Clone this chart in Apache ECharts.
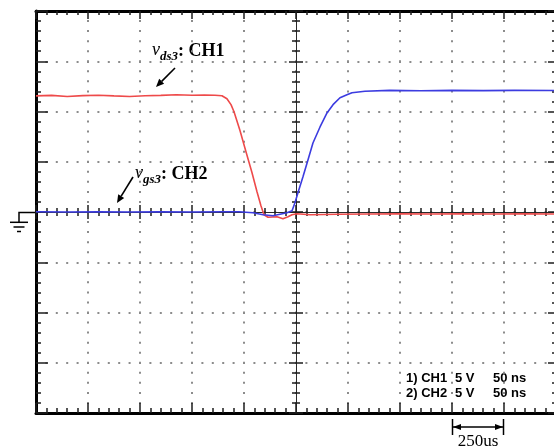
<!DOCTYPE html>
<html><head><meta charset="utf-8">
<script src="https://cdn.jsdelivr.net/npm/echarts@6/dist/echarts.min.js"></script>
<style>html,body{margin:0;padding:0;background:#fff}#c{width:554px;height:447px}</style>
</head><body><div id="c"></div>
<script>
// Time in ns relative to screen centre (50 ns/div), voltage in V (5 V/div)
const ch1Time = [-250,-235,-220,-205,-190,-175,-160,-145,-130,-115,-100,-88,-78,-71.2,-66.4,-62.5,-59.6,-53.8,-48.1,-42.3,-37.5,-33.7,-30.8,-26.9,-18.3,-12.5,-7.7,-3.8,0.9,13.5,40,70,100,130,160,190,220,250];
const ch1Volt = [11.55,11.6,11.5,11.58,11.62,11.55,11.5,11.56,11.6,11.66,11.62,11.64,11.62,11.57,11.27,10.68,9.98,8.09,6.0,3.91,2.02,0.63,-0.27,-0.52,-0.47,-0.67,-0.47,-0.27,-0.17,-0.27,-0.22,-0.2,-0.18,-0.2,-0.17,-0.2,-0.18,-0.2];
const ch2Time = [-250,-220,-190,-160,-130,-100,-70,-55,-41.3,-31.7,-22.1,-8.7,-3.8,-1,1.9,6.7,11.5,16.3,23.1,29.8,35.6,42.3,49,53.8,66.3,90,120,150,180,210,250];
const ch2Volt = [0.02,0,0.03,0,0.02,0,0.03,0.03,-0.07,-0.27,-0.37,-0.07,0.13,0.93,1.92,3.51,5.18,6.87,8.46,9.86,10.68,11.37,11.67,11.87,12.02,12.1,12.07,12.1,12.08,12.1,12.09];
const timeAxis = {min:-250, max:250, interval:50};
const voltAxis = {min:-20, max:20, interval:5};
const chLabels = ['1) CH1','2) CH2'];
const voltsPerDiv = ['5 V','5 V'];
const timePerDiv = ['50 ns','50 ns'];
const scaleBarLabel = '250us';

const tickCol = '#1e1e1e';
function ax(base, pos, opt) {
  const a = Object.assign({type:'value', position:pos, axisLabel:{show:false}, splitLine:{show:false}}, base);
  a.axisLine = {show:true, onZero:opt.onZero, onZeroAxisIndex:0, lineStyle:{color:opt.lineColor, width:opt.lineWidth}};
  a.axisTick = {show:true, inside:opt.inside, length:opt.major, lineStyle:{color:tickCol, width:1.5}};
  a.minorTick = {show:true, splitNumber:5, length:opt.minor, lineStyle:{color:tickCol, width:1.5}};
  if (opt.split) a.splitLine = {show:true, lineStyle:{color:'#8c8c8c', width:2, type:opt.split, dashOffset:1}};
  return a;
}
const zip = (a,b) => a.map((x,i)=>[x,b[i]]);

function arrow(x1,y1,x2,y2) {
  const dx=x2-x1, dy=y2-y1, L=Math.hypot(dx,dy), ux=dx/L, uy=dy/L;
  const hl=8, hw=3.5, bx=x2-ux*hl, by=y2-uy*hl;
  return [
    {type:'line', shape:{x1:x1,y1:y1,x2:bx,y2:by}, style:{stroke:'#000',lineWidth:1.6}},
    {type:'polygon', shape:{points:[[x2,y2],[bx-uy*hw,by+ux*hw],[bx+uy*hw,by-ux*hw]]}, style:{fill:'#000'}}
  ];
}

const serif = '"Liberation Serif","Times New Roman",serif';
const sans = '"Liberation Sans",Arial,sans-serif';
const g = [];
// ground symbol
g.push({type:'polyline', shape:{points:[[35,212.5],[19,212.5],[19,222.3]]}, style:{stroke:'#000',lineWidth:1.5,fill:null}});
g.push({type:'line', shape:{x1:10,y1:222.3,x2:28,y2:222.3}, style:{stroke:'#000',lineWidth:1.5}});
g.push({type:'line', shape:{x1:13.5,y1:227,x2:24.5,y2:227}, style:{stroke:'#000',lineWidth:1.5}});
g.push({type:'line', shape:{x1:17,y1:231.5,x2:21,y2:231.5}, style:{stroke:'#000',lineWidth:1.5}});
// channel labels
function chLabel(x, yb, sub, name) {
  return [
    {type:'text', x:x, y:yb, style:{text:'v', font:'italic 18px '+serif, fill:'#000', verticalAlign:'bottom'}},
    {type:'text', x:x+8, y:yb+4, style:{text:sub, font:'italic bold 13px '+serif, fill:'#000', verticalAlign:'bottom'}},
    {type:'text', x:x+26, y:yb+1, style:{text:': '+name, font:'bold 18px '+serif, fill:'#000', verticalAlign:'bottom'}}
  ];
}
g.push(...chLabel(152, 59, 'ds3', 'CH1'));
g.push(...chLabel(135, 182, 'gs3', 'CH2'));
g.push(...arrow(175,68,156,87));
g.push(...arrow(133,177,117,203));
// scale settings text
[0,1].forEach(i=>{
  const y = 385 + i*15;
  g.push({type:'text', x:406, y:y, style:{text:chLabels[i], font:'bold 13px '+sans, fill:'#000', verticalAlign:'bottom'}});
  g.push({type:'text', x:455, y:y, style:{text:voltsPerDiv[i], font:'bold 13px '+sans, fill:'#000', verticalAlign:'bottom'}});
  g.push({type:'text', x:493, y:y, style:{text:timePerDiv[i], font:'bold 13px '+sans, fill:'#000', verticalAlign:'bottom'}});
});
// scale bar
g.push({type:'line', shape:{x1:452.5,y1:419,x2:452.5,y2:435}, style:{stroke:'#000',lineWidth:1.5}});
g.push({type:'line', shape:{x1:503.5,y1:419,x2:503.5,y2:435}, style:{stroke:'#000',lineWidth:1.5}});
g.push({type:'line', shape:{x1:453,y1:427,x2:503,y2:427}, style:{stroke:'#000',lineWidth:1.5}});
g.push({type:'polygon', shape:{points:[[453,427],[461,424],[461,430]]}, style:{fill:'#000'}});
g.push({type:'polygon', shape:{points:[[503,427],[495,424],[495,430]]}, style:{fill:'#000'}});
g.push({type:'text', x:478, y:450, style:{text:scaleBarLabel, font:'17px '+serif, fill:'#000', align:'center', verticalAlign:'bottom'}});

const chart = echarts.init(document.getElementById('c'), null, {renderer:'canvas'});
chart.setOption({
  animation:false,
  backgroundColor:'#fff',
  grid:{left:36, top:11, width:520, height:402, containLabel:false, outerBoundsMode:'none'},
  xAxis:[
    ax(timeAxis,'bottom',{onZero:false,lineColor:'#000',lineWidth:3,inside:true,major:10,minor:5,split:[2,8.05]}),
    ax(timeAxis,'top',{onZero:false,lineColor:'#000',lineWidth:3,inside:true,major:8,minor:4}),
    ax(timeAxis,'bottom',{onZero:true,lineColor:'#2a2a2a',lineWidth:1,inside:true,major:7,minor:4}),
    ax(timeAxis,'bottom',{onZero:true,lineColor:'#2a2a2a',lineWidth:1,inside:false,major:7,minor:4})
  ],
  yAxis:[
    ax(voltAxis,'left',{onZero:false,lineColor:'#000',lineWidth:3,inside:true,major:12,minor:5,split:[2,8.4]}),
    ax(voltAxis,'right',{onZero:false,lineColor:'#000',lineWidth:3,inside:true,major:8,minor:4}),
    ax(voltAxis,'left',{onZero:true,lineColor:'#2a2a2a',lineWidth:1,inside:true,major:7,minor:4}),
    ax(voltAxis,'left',{onZero:true,lineColor:'#2a2a2a',lineWidth:1,inside:false,major:7,minor:4})
  ],
  series:[
    {type:'line', name:'CH1', data:zip(ch1Time,ch1Volt), showSymbol:false, xAxisIndex:0, yAxisIndex:0, z:5, lineStyle:{color:'#ee4a4a', width:1.6}},
    {type:'line', name:'CH2', data:zip(ch2Time,ch2Volt), showSymbol:false, xAxisIndex:0, yAxisIndex:0, z:6, lineStyle:{color:'#3c3ce0', width:1.6}}
  ],
  graphic:{elements:g}
});
</script></body></html>
